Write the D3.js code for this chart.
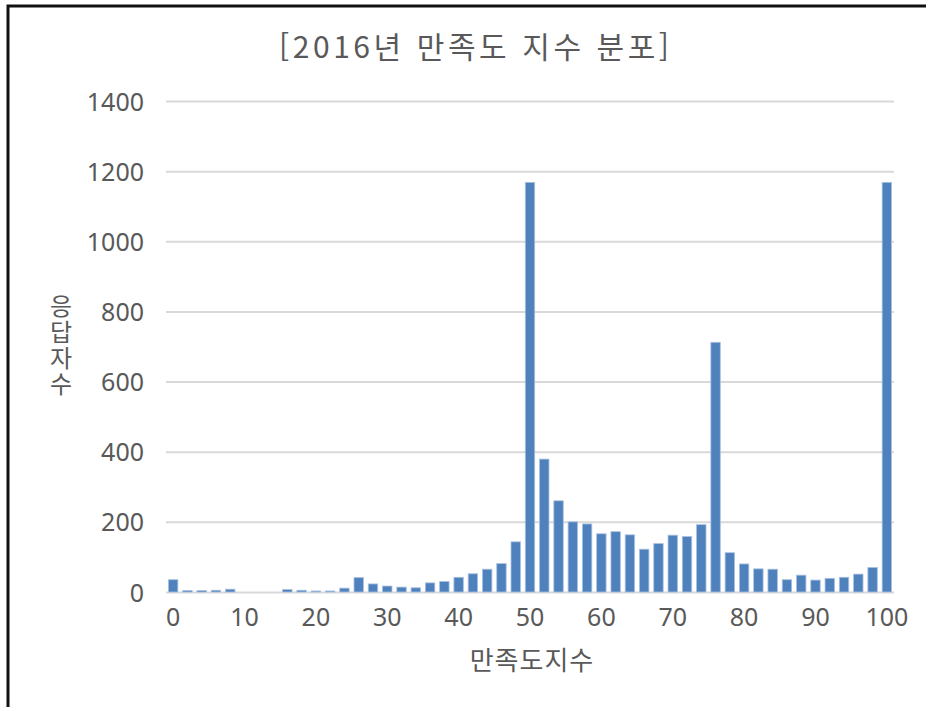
<!DOCTYPE html>
<html lang="ko">
<head>
<meta charset="utf-8">
<title>2016년 만족도 지수 분포</title>
<script src="https://d3js.org/d3.v7.min.js"></script>
<style>
  body { margin: 0; background: #fff; }
  svg { display: block; font-family: "Noto Sans CJK KR", "Noto Sans", sans-serif; }
</style>
</head>
<body>
<script>
// satisfaction index (x) and number of respondents (y)
const scores = [0, 2, 4, 6, 8, 10, 12, 14, 16, 18, 20, 22, 24, 26, 28, 30, 32, 34, 36, 38,
                40, 42, 44, 46, 48, 50, 52, 54, 56, 58, 60, 62, 64, 66, 68, 70, 72, 74, 76, 78,
                80, 82, 84, 86, 88, 90, 92, 94, 96, 98, 100];
const counts = [35, 4, 4, 5, 8, 0, 0, 0, 7, 5, 3, 3, 11, 41, 23, 17, 14, 12, 26, 30,
                42, 52, 65, 81, 143, 1168, 379, 260, 200, 194, 166, 172, 163, 122, 138, 162, 158, 192, 712, 112,
                80, 66, 65, 35, 48, 34, 39, 42, 51, 70, 1168];
const xTickLabels = [0, 10, 20, 30, 40, 50, 60, 70, 80, 90, 100];
const yTicks = [0, 200, 400, 600, 800, 1000, 1200, 1400];

const W = 926, H = 707;
const plotLeft = 166, plotRight = 894, plotTop = 101, plotBottom = 592;
const textColor = "#595959";

const svg = d3.select("body").append("svg")
  .attr("width", W).attr("height", H);

// frame
svg.append("rect")
  .attr("x", 8).attr("y", 6)
  .attr("width", 1000).attr("height", 1000)
  .attr("fill", "none").attr("stroke", "#111").attr("stroke-width", 3);

const x = d3.scaleBand().domain(scores).range([plotLeft, plotRight]).paddingInner(0.34).paddingOuter(0.17);
const y = d3.scaleLinear().domain([0, 1400]).range([plotBottom, plotTop]);

// y gridlines + labels
const yAxis = svg.append("g")
  .attr("transform", `translate(${plotLeft},0)`)
  .call(d3.axisLeft(y).tickValues(yTicks).tickFormat(d3.format("d"))
    .tickSize(-(plotRight - plotLeft)).tickPadding(22));
yAxis.select(".domain").remove();
yAxis.selectAll(".tick line").attr("stroke", "#d9d9d9").attr("stroke-width", 2);
yAxis.selectAll(".tick text")
  .attr("fill", textColor).attr("font-size", 25).attr("font-family", "Noto Sans, sans-serif")
  .attr("dy", "0.36em");

// bars
svg.append("g").selectAll("rect")
  .data(scores)
  .join("rect")
  .attr("x", (d) => x(d))
  .attr("width", x.bandwidth())
  .attr("y", (d, i) => y(counts[i]))
  .attr("height", (d, i) => y(0) - y(counts[i]))
  .attr("fill", "#4f81bd")
  .attr("stroke", "#a9c1e0")
  .attr("stroke-width", 0.8);

// x labels
const xAxis = svg.append("g")
  .attr("transform", `translate(0,${plotBottom})`)
  .call(d3.axisBottom(x).tickValues(xTickLabels).tickSize(0).tickPadding(16));
xAxis.select(".domain").remove();
xAxis.selectAll(".tick text")
  .attr("fill", textColor).attr("font-size", 25).attr("font-family", "Noto Sans, sans-serif");

// title
svg.append("text")
  .attr("x", 474).attr("y", 58)
  .attr("text-anchor", "middle")
  .attr("fill", textColor).attr("font-size", 30)
  .attr("textLength", 390).attr("lengthAdjust", "spacing")
  .text("[2016년 만족도 지수 분포]");

// x axis title
svg.append("text")
  .attr("x", 532).attr("y", 670)
  .attr("text-anchor", "middle")
  .attr("fill", textColor).attr("font-size", 26)
  .attr("letter-spacing", 1)
  .text("만족도지수");

// y axis title, stacked characters
svg.append("text")
  .attr("x", 61).attr("y", 294)
  .attr("fill", textColor).attr("font-size", 24)
  .attr("letter-spacing", 2)
  .style("writing-mode", "vertical-rl")
  .style("text-orientation", "upright")
  .text("응답자수");
</script>
</body>
</html>
